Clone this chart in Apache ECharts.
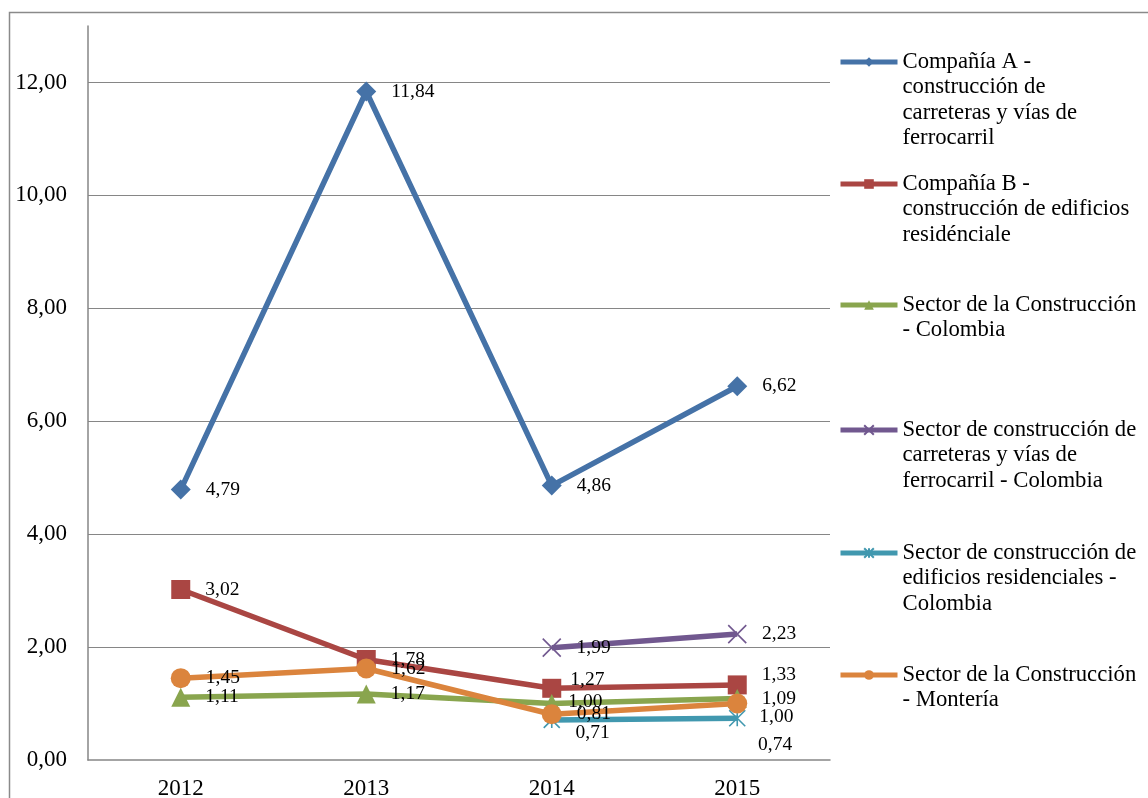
<!DOCTYPE html>
<html>
<head>
<meta charset="utf-8">
<title>Indicadores 2012-2015</title>
<script src="https://cdn.jsdelivr.net/npm/echarts@6/dist/echarts.min.js"></script>
<style>
  html, body { margin: 0; padding: 0; background: #fff; }
  #chart { width: 1148px; height: 798px; }
</style>
</head>
<body>
<div id="chart"></div>
<script>
// Years on the category axis
const years = ['2012', '2013', '2014', '2015'];

// Series values (null where the series has no data)
const companiaA = [4.79, 11.84, 4.86, 6.62];
const companiaB = [3.02, 1.78, 1.27, 1.33];
const sectorColombia = [1.11, 1.17, 1.00, 1.09];
const sectorCarreteras = [null, null, 1.99, 2.23];
const sectorEdificios = [null, null, 0.71, 0.74];
const sectorMonteria = [1.45, 1.62, 0.81, 1.00];

// Legend text, one entry per line as wrapped in the legend
const nameA = ['Compañía A -', 'construcción de', 'carreteras y vías de', 'ferrocarril'];
const nameB = ['Compañía B -', 'construcción de edificios', 'residénciale'];
const nameSector = ['Sector de la Construcción', '- Colombia'];
const nameCarreteras = ['Sector de construcción de', 'carreteras y vías de', 'ferrocarril - Colombia'];
const nameEdificios = ['Sector de construcción de', 'edificios residenciales -', 'Colombia'];
const nameMonteria = ['Sector de la Construcción', '- Montería'];

// Y-axis range
const yMin = 0, yMax = 13, yStep = 2;

const FONT = "'Liberation Serif', 'Times New Roman', serif";
const fmt = v => v.toFixed(2).replace('.', ',');

const xMark = 'path://M0,0L10,10M10,0L0,10';
const starMark = 'path://M0,0L10,10M10,0L0,10M5,0L5,10';

const defs = [
  { lines: nameA, values: companiaA, color: '#4572A7', symbol: 'diamond', size: 20, nudge: {} },
  { lines: nameB, values: companiaB, color: '#AA4643', symbol: 'rect', size: 19, nudge: { 2: [-6, -8], 3: [0, -10] } },
  { lines: nameSector, values: sectorColombia, color: '#89A54E', symbol: 'triangle', size: 19, nudge: { 2: [-8, -2] } },
  { lines: nameCarreteras, values: sectorCarreteras, color: '#71588F', symbol: xMark, size: 18, stroke: true, nudge: {} },
  { lines: nameEdificios, values: sectorEdificios, color: '#4198AF', symbol: starMark, size: 16, stroke: true, nudge: { 2: [0, 13], 3: [-3, 27] } },
  { lines: nameMonteria, values: sectorMonteria, color: '#DB843D', symbol: 'circle', size: 20, nudge: { 3: [-3, 13] } }
];

// Legend icon centres (px from top) and text line height
const legendIconY = [62, 184, 305, 430, 553, 675];
const LH = 25.5;

const series = defs.map(d => ({
  name: d.lines.join(' '),
  type: 'line',
  data: d.values.map((v, i) => {
    if (v === null) return '-';
    const item = { value: v };
    if (d.nudge[i]) item.label = { offset: d.nudge[i] };
    return item;
  }),
  symbol: d.symbol,
  symbolSize: d.size,
  showAllSymbol: true,
  connectNulls: false,
  lineStyle: { color: d.color, width: 5.5 },
  itemStyle: d.stroke
    ? { color: d.color, borderColor: d.color, borderWidth: 1.6 }
    : { color: d.color, borderWidth: 0 },
  label: {
    show: true,
    position: 'right',
    distance: 15,
    formatter: p => fmt(p.value),
    fontFamily: FONT,
    fontSize: 19.5,
    color: '#000'
  },
  emphasis: { disabled: true },
  animation: false
}));

// Each legend entry is its own component so its first text line sits level
// with the icon; leading blank lines push the wrapped text below the icon.
const legends = defs.map((d, i) => {
  const n = d.lines.length;
  return {
    show: true,
    orient: 'vertical',
    left: 838,
    top: legendIconY[i] - ((2 * n - 1) * LH) / 2,
    padding: 0,
    itemWidth: 57,
    itemHeight: 12,
    selectedMode: false,
    lineStyle: { width: 5 },
    data: [d.lines.join(' ')],
    formatter: () => '\n'.repeat(n - 1) + d.lines.join('\n'),
    textStyle: {
      fontFamily: FONT,
      fontSize: 22.7,
      color: '#000',
      lineHeight: LH
    }
  };
});

const chart = echarts.init(document.getElementById('chart'), null, { renderer: 'canvas' });
chart.setOption({
  backgroundColor: '#fff',
  animation: false,
  graphic: [{
    type: 'rect',
    shape: { x: 9.5, y: 12.5, width: 1300, height: 900 },
    style: { fill: 'none', stroke: '#8a8a8a', lineWidth: 1.5 },
    silent: true
  }],
  grid: { left: 88, right: 318, top: 26, bottom: 38, containLabel: false, outerBoundsMode: 'none' },
  legend: legends,
  xAxis: {
    type: 'category',
    data: years,
    boundaryGap: true,
    axisLine: { show: true, lineStyle: { color: '#868686', width: 1.5 } },
    axisTick: { show: false },
    axisLabel: { fontFamily: FONT, fontSize: 23, color: '#000', margin: 17 },
    splitLine: { show: false }
  },
  yAxis: {
    type: 'value',
    min: yMin,
    max: yMax,
    interval: yStep,
    axisLine: { show: true, lineStyle: { color: '#868686', width: 1.5 } },
    axisTick: { show: false },
    axisLabel: {
      fontFamily: FONT, fontSize: 23, color: '#000', margin: 21,
      showMaxLabel: false,
      formatter: v => fmt(v)
    },
    splitLine: { show: true, showMaxLine: false, showMinLine: false, lineStyle: { color: '#868686', width: 1.2 } }
  },
  series: series
});
</script>
</body>
</html>
